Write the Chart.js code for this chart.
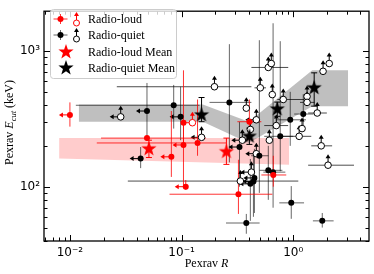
<!DOCTYPE html>
<html>
<head>
<meta charset="utf-8">
<script src="https://cdn.jsdelivr.net/npm/chart.js@4.4.1/dist/chart.umd.min.js"></script>
<style>
    html, body { margin: 0; padding: 0; background: #fff; }
    #wrap { width: 374px; height: 274px; position: relative; }
</style>
</head>
<body>
<div id="wrap"><canvas id="chart"></canvas></div>
<script>
const xTicks = [0.01, 0.1, 1];
const xTickLabels = ['10\u207B\u00B2', '10\u207B\u00B9', '10\u2070'];
const yTicks = [100, 1000];
const yTickLabels = ['10\u00B2', '10\u00B3'];

// radio-loud, Ecut measured
const rlR    = [0.010, 0.049, 0.081, 0.104, 0.104, 0.139, 0.109, 0.323, 0.663, 0.405];
const rlEcut = [338, 228, 166, 203, 296, 210, 100, 88, 122, 301];
const rlRLo  = [null, 0.019, null, null, null, 0.0174, null, 0.078, 0.518, 0.316];
const rlRHi  = [null, 0.165, null, null, null, 0.25, null, 0.65, 0.866, 0.518];
const rlELo  = [277, null, 118, 100, 210, 169, 95, 63, 100, 217];
const rlEHi  = [418, null, 361, 291, 720, 439, 112, 158, 169, 439];
const rlRUl  = [1, 0, 1, 1, 0, 0, 1, 0, 0, 0];

// radio-loud, Ecut lower limits
const rlLimR    = [0.125];
const rlLimEcut = [296];
const rlLimRUl  = [1];

// radio-quiet, Ecut measured
const rqR    = [0.049, 0.085, 0.098, 0.043, 0.268, 0.330, 0.449, 0.440, 0.413, 0.598, 0.66, 0.497, 0.765, 0.94, 1.23, 0.96, 1.82, 0.38];
const rqEcut = [361, 398, 327, 161, 418, 196, 116, 109, 105, 132, 128, 169, 235, 311, 343, 76, 56, 54];
const rqRLo  = [null, 0.0113, null, null, 0.178, null, null, null, null, 0.50, 0.54, 0.42, 0.55, 0.70, 1.02, 0.75, 1.50, 0.25];
const rqRHi  = [null, 0.145, null, null, 0.422, null, null, null, null, 0.80, 0.85, 0.60, 1.00, 1.30, 1.52, 1.25, 2.30, 0.50];
const rqELo  = [228, 268, 220, 137, 151, 100, 64, 60, 56, 80, 70, 90, 130, 200, 260, 58, 50, 45];
const rqEHi  = [581, 562, 545, 196, 1122, 300, 190, 170, 160, 200, 1600, 1200, 1180, 500, 480, 101, 64, 63];
const rqRUl  = [1, 0, 1, 1, 0, 1, 1, 1, 1, 0, 0, 0, 0, 0, 0, 0, 0, 0];

// radio-quiet, Ecut lower limits
const rqLimR    = [0.0285, 0.197, 0.151, 0.38, 0.507, 0.598, 0.636, 0.649, 0.814, 1.33, 1.33, 1.85, 2.10, 1.64, 0.467, 0.413, 0.705, 1.20, 1.13, 0.611, 0.467, 0.422, 0.336, 1.78, 2.05, 0.35];
const rqLimEcut = [327, 545, 231, 379, 535, 756, 808, 477, 439, 462, 418, 708, 808, 349, 311, 264, 282, 268, 235, 220, 175, 128, 110, 200, 144, 220];
const rqLimRLo  = [null, 0.0263, null, null, 0.45, 0.422, null, null, 0.72, null, 1.15, null, null, 1.36, null, null, 0.55, null, 0.80, null, null, null, 0.033, 1.45, 1.36, null];
const rqLimRHi  = [null, 0.422, null, null, 0.57, 0.902, null, null, 1.25, null, 1.55, null, null, 2.0, null, null, 0.90, null, 1.45, null, null, null, 1.11, 2.23, 3.5, null];
const rqLimRUl  = [1, 0, 1, 0, 0, 0, 0, 0, 0, 0, 0, 0, 0, 0, 1, 0, 0, 0, 0, 0, 1, 1, 0, 0, 0, 1];

// means
const rlMeanR    = [0.051, 0.252];
const rlMeanEcut = [190, 181];
const rlMeanLo   = [164, 146];
const rlMeanHi   = [220, 228];
const rqMeanR    = [0.151, 0.405, 0.72, 1.54];
const rqMeanEcut = [338, 235, 373, 535];
const rqMeanLo   = [301, 205, 330, 392];
const rqMeanHi   = [454, 270, 420, 690];

// shaded ranges
const rqBandR  = [0.012, 0.155, 0.40, 1.48, 3.1];
const rqBandLo = [301, 301, 210, 392, 392];
const rqBandHi = [404, 404, 301, 720, 720];
const rlBandR  = [0.008, 0.92];
const rlBandLo = [161, 145];
const rlBandHi = [228, 228];

const RED = '#ff0000';
const serif = '"Liberation Serif", "Times New Roman", serif';

function pts(xs, ys) {
    return xs.map((v, i) => ({ x: v, y: ys[i] }));
}

function starImage(color, r) {
    const c = document.createElement('canvas');
    const s = Math.ceil(r * 2 + 2);
    c.width = s;
    c.height = s;
    const g = c.getContext('2d');
    g.translate(s / 2, s / 2);
    g.beginPath();
    for (let k = 0; k < 10; k++) {
        const rad = k % 2 ? r * 0.4 : r;
        const a = -Math.PI / 2 + k * Math.PI / 5;
        g.lineTo(rad * Math.cos(a), rad * Math.sin(a));
    }
    g.closePath();
    g.fillStyle = color;
    g.fill();
    return c;
}
const redStar = starImage(RED, 8);
const blackStar = starImage('#000', 8);

function seg(ctx, x1, y1, x2, y2) {
    ctx.beginPath();
    ctx.moveTo(x1, y1);
    ctx.lineTo(x2, y2);
    ctx.stroke();
}

function arrow(ctx, px, py, dir, color) {
    // dir: 'up' or 'left'
    const len = 10;
    ctx.strokeStyle = color;
    ctx.fillStyle = color;
    ctx.lineWidth = 1;
    ctx.beginPath();
    if (dir === 'up') {
        seg(ctx, px, py, px, py - len + 2);
        ctx.beginPath();
        ctx.moveTo(px, py - len - 1);
        ctx.lineTo(px - 2.5, py - len + 3);
        ctx.lineTo(px + 2.5, py - len + 3);
    } else {
        seg(ctx, px, py, px - len + 2, py);
        ctx.beginPath();
        ctx.moveTo(px - len - 1, py);
        ctx.lineTo(px - len + 3, py - 2.5);
        ctx.lineTo(px - len + 3, py + 2.5);
    }
    ctx.closePath();
    ctx.fill();
}

const errorBars = {
    id: 'errorBars',
    beforeDatasetsDraw(chart) {
        const { ctx, chartArea: a, scales: { x, y } } = chart;
        ctx.save();
        ctx.beginPath();
        ctx.rect(a.left, a.top, a.right - a.left, a.bottom - a.top);
        ctx.clip();
        const sets = chart.data.datasets;
        for (let d = sets.length - 1; d >= 0; d--) {
            const e = sets[d].errs;
            if (!e) continue;
            sets[d].data.forEach((p, i) => {
                const px = x.getPixelForValue(p.x);
                const py = y.getPixelForValue(p.y);
                ctx.strokeStyle = e.barColor;
                ctx.lineWidth = 1;
                if (e.rLo && e.rLo[i] != null) {
                    seg(ctx, x.getPixelForValue(e.rLo[i]), py, x.getPixelForValue(e.rHi[i]), py);
                }
                if (e.eLo && e.eLo[i] != null) {
                    const t = y.getPixelForValue(e.eHi[i]);
                    const b = y.getPixelForValue(e.eLo[i]);
                    seg(ctx, px, t, px, b);
                    if (e.caps) {
                        seg(ctx, px - 3, t, px + 3, t);
                        seg(ctx, px - 3, b, px + 3, b);
                    }
                }
                if (e.rUl && e.rUl[i]) arrow(ctx, px, py, 'left', e.color);
                if (e.eLim) arrow(ctx, px, py, 'up', e.color);
            });
        }
        ctx.restore();
    }
};

const frame = {
    id: 'frame',
    afterDatasetsDraw(chart) {
        const { ctx, chartArea: a, scales: { x, y } } = chart;
        ctx.save();
        ctx.strokeStyle = '#000';
        ctx.lineWidth = 1;
        for (let p = -3; p <= 1; p++) {
            for (let m = 1; m < 10; m++) {
                const v = m * Math.pow(10, p);
                if (v < x.min || v > x.max) continue;
                const px = Math.round(x.getPixelForValue(v)) + 0.5;
                const len = m === 1 ? 6 : 3.5;
                seg(ctx, px, a.bottom, px, a.bottom - len);
                seg(ctx, px, a.top, px, a.top + len);
            }
        }
        for (let p = 1; p <= 3; p++) {
            for (let m = 1; m < 10; m++) {
                const v = m * Math.pow(10, p);
                if (v < y.min || v > y.max) continue;
                const py = Math.round(y.getPixelForValue(v)) + 0.5;
                const len = m === 1 ? 6 : 3.5;
                seg(ctx, a.left, py, a.left + len, py);
                seg(ctx, a.right, py, a.right - len, py);
            }
        }
        ctx.lineWidth = 1.3;
        ctx.strokeRect(a.left, a.top, a.right - a.left, a.bottom - a.top);
        ctx.restore();
    }
};

function drawPieces(ctx, pieces, cx, base) {
    let total = 0;
    pieces.forEach(p => { ctx.font = p.font; total += ctx.measureText(p.text).width; });
    let x0 = cx - total / 2;
    pieces.forEach(p => {
        ctx.font = p.font;
        ctx.fillText(p.text, x0, base + (p.dy || 0));
        x0 += ctx.measureText(p.text).width;
    });
}

const overlay = {
    id: 'overlay',
    afterDraw(chart) {
        const { ctx } = chart;
        ctx.save();
        ctx.fillStyle = '#000';
        ctx.textBaseline = 'alphabetic';
        ctx.textAlign = 'left';

        // axis titles
        drawPieces(ctx, [
            { text: 'Pexrav ', font: '12px ' + serif },
            { text: 'R', font: 'italic 12px ' + serif }
        ], 206.5, 267);

        ctx.save();
        ctx.translate(13, 122.5);
        ctx.rotate(-Math.PI / 2);
        drawPieces(ctx, [
            { text: 'Pexrav ', font: '12px ' + serif },
            { text: 'E', font: 'italic 12px ' + serif },
            { text: 'cut', font: 'italic 8.5px ' + serif, dy: 3 },
            { text: ' (keV)', font: '12px ' + serif }
        ], 0, 0);
        ctx.restore();

        // legend
        const bx = 50, by = 9, bw = 126, bh = 69;
        ctx.beginPath();
        ctx.roundRect(bx + 0.5, by + 0.5, bw, bh, 3);
        ctx.fillStyle = 'rgba(255,255,255,0.8)';
        ctx.fill();
        ctx.strokeStyle = '#cccccc';
        ctx.lineWidth = 1;
        ctx.stroke();

        const rows = [
            { label: 'Radio-loud', color: RED, bar: 'rgba(255,0,0,0.8)', y: 19 },
            { label: 'Radio-quiet', color: '#000', bar: 'rgba(0,0,0,0.6)', y: 35 }
        ];
        rows.forEach(r => {
            ctx.strokeStyle = r.bar;
            ctx.lineWidth = 1;
            seg(ctx, 53.5, r.y, 67.5, r.y);
            seg(ctx, 60.5, r.y - 5, 60.5, r.y + 5);
            ctx.fillStyle = r.color;
            ctx.beginPath();
            ctx.arc(60.5, r.y, 3, 0, Math.PI * 2);
            ctx.fill();
            arrow(ctx, 76.5, r.y + 4, 'up', r.color);
            ctx.beginPath();
            ctx.arc(76.5, r.y + 4, 3, 0, Math.PI * 2);
            ctx.fillStyle = '#fff';
            ctx.fill();
            ctx.strokeStyle = r.color;
            ctx.stroke();
        });
        ctx.drawImage(redStar, 66 - redStar.width / 2, 52 - redStar.height / 2);
        ctx.drawImage(blackStar, 66 - blackStar.width / 2, 68 - blackStar.height / 2);

        ctx.fillStyle = '#000';
        ctx.font = '12px ' + serif;
        ctx.textBaseline = 'middle';
        ['Radio-loud', 'Radio-quiet', 'Radio-loud Mean', 'Radio-quiet Mean']
            .forEach((t, i) => ctx.fillText(t, 88, [19, 35, 52, 68][i] + 1));
        ctx.restore();
    }
};

const tickFont = { family: '"DejaVu Sans", sans-serif', size: 12 };

new Chart(document.getElementById('chart'), {
    type: 'scatter',
    data: {
        datasets: [
            {
                label: 'Radio-loud Mean',
                data: pts(rlMeanR, rlMeanEcut),
                pointStyle: redStar,
                errs: { eLo: rlMeanLo, eHi: rlMeanHi, barColor: RED, color: RED, caps: true }
            },
            {
                label: 'Radio-quiet Mean',
                data: pts(rqMeanR, rqMeanEcut),
                pointStyle: blackStar,
                errs: { eLo: rqMeanLo, eHi: rqMeanHi, barColor: '#000', color: '#000', caps: true }
            },
            {
                label: 'Radio-loud',
                data: pts(rlR, rlEcut),
                pointStyle: 'circle', pointRadius: 3,
                backgroundColor: RED, borderColor: RED, borderWidth: 0,
                errs: { rLo: rlRLo, rHi: rlRHi, eLo: rlELo, eHi: rlEHi, rUl: rlRUl,
                        barColor: 'rgba(255,0,0,0.8)', color: RED }
            },
            {
                label: 'Radio-loud limits',
                data: pts(rlLimR, rlLimEcut),
                pointStyle: 'circle', pointRadius: 3.3,
                backgroundColor: '#fff', borderColor: RED, borderWidth: 1,
                errs: { rUl: rlLimRUl, eLim: true, barColor: RED, color: RED }
            },
            {
                label: 'Radio-quiet',
                data: pts(rqR, rqEcut),
                pointStyle: 'circle', pointRadius: 3,
                backgroundColor: '#000', borderColor: '#000', borderWidth: 0,
                errs: { rLo: rqRLo, rHi: rqRHi, eLo: rqELo, eHi: rqEHi, rUl: rqRUl,
                        barColor: 'rgba(0,0,0,0.6)', color: '#000' }
            },
            {
                label: 'Radio-quiet limits',
                data: pts(rqLimR, rqLimEcut),
                pointStyle: 'circle', pointRadius: 3.3,
                backgroundColor: '#fff', borderColor: '#000', borderWidth: 1,
                errs: { rLo: rqLimRLo, rHi: rqLimRHi, rUl: rqLimRUl, eLim: true,
                        barColor: 'rgba(0,0,0,0.7)', color: '#000' }
            },
            {
                type: 'line', label: 'rq band hi',
                data: pts(rqBandR, rqBandHi),
                borderColor: 'transparent', pointRadius: 0, fill: false
            },
            {
                type: 'line', label: 'rq band lo',
                data: pts(rqBandR, rqBandLo),
                borderColor: 'transparent', pointRadius: 0,
                fill: '-1', backgroundColor: 'rgba(128,128,128,0.5)'
            },
            {
                type: 'line', label: 'rl band hi',
                data: pts(rlBandR, rlBandHi),
                borderColor: 'transparent', pointRadius: 0, fill: false
            },
            {
                type: 'line', label: 'rl band lo',
                data: pts(rlBandR, rlBandLo),
                borderColor: 'transparent', pointRadius: 0,
                fill: '-1', backgroundColor: 'rgba(255,0,0,0.2)'
            }
        ]
    },
    options: {
        responsive: true,
        maintainAspectRatio: false,
        animation: false,
        events: [],
        layout: { padding: { top: 4, right: 4, left: 0, bottom: 0 } },
        plugins: {
            legend: { display: false },
            tooltip: { enabled: false },
            filler: { propagate: false, drawTime: 'beforeDatasetsDraw' }
        },
        scales: {
            x: {
                type: 'logarithmic',
                min: 0.00586,
                max: 4.77,
                grid: { display: false, drawTicks: false },
                border: { display: false },
                afterBuildTicks: s => { s.ticks = xTicks.map(v => ({ value: v })); },
                afterFit: s => { s.height = 33; },
                ticks: {
                    autoSkip: false, maxRotation: 0, padding: 5,
                    color: '#000', font: tickFont,
                    callback: (v, i) => xTickLabels[i]
                }
            },
            y: {
                type: 'logarithmic',
                min: 39.8,
                max: 1963,
                grid: { display: false, drawTicks: false },
                border: { display: false },
                afterBuildTicks: s => { s.ticks = yTicks.map(v => ({ value: v })); },
                afterFit: s => { s.width = 44; },
                ticks: {
                    autoSkip: false, padding: 4,
                    color: '#000', font: tickFont,
                    callback: (v, i) => yTickLabels[i]
                }
            }
        }
    },
    plugins: [errorBars, frame, overlay]
});
</script>
</body>
</html>
